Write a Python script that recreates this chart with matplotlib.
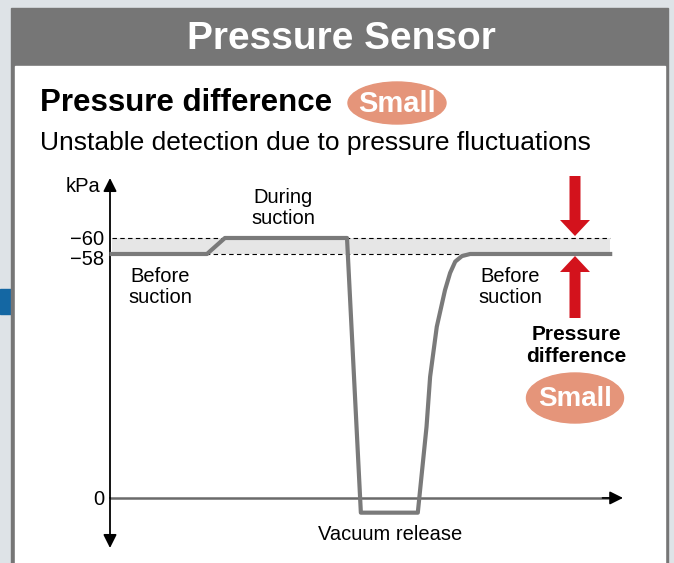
import matplotlib.pyplot as plt
import numpy as np
from matplotlib.patches import Rectangle, Ellipse, FancyArrow

plt.rcParams['font.family'] = ['Liberation Sans', 'DejaVu Sans']

# Pressure trace (time in arbitrary units, pressure in kPa)
time = [0.3, 18.9, 22.4, 46.2, 48.9, 60.0, 61.7, 62.4, 63.7, 65.3,
        66.3, 67.3, 68.6, 70.2, 97.5]
pressure = [-58, -58, -60, -60, 3.5, 3.5, -16.9, -28.8, -40.7, -49.4,
            -53.5, -56.2, -57.5, -58, -58]

band_low, band_high = -58, -60
tick_values = [-60, -58, 0]
tick_labels = ['\u221260', '\u221258', '0']

W, H = 674, 563


# schematic vertical scale: the -58..-60 band is stretched
def fwd(v):
    v = np.asarray(v, dtype=float)
    return np.where(v > -58, -v * 244.0 / 58.0, 244.0 + (-58.0 - v) * 8.0)


def inv(p):
    p = np.asarray(p, dtype=float)
    return np.where(p < 244, -p * 58.0 / 244.0, -58.0 - (p - 244.0) / 8.0)


fig = plt.figure(figsize=(W / 100, H / 100), dpi=100)
fig.patch.set_facecolor('#dee3e7')

# background / panel decoration in pixel coordinates
bg = fig.add_axes([0, 0, 1, 1])
bg.set_xlim(0, W)
bg.set_ylim(H, 0)
bg.axis('off')
bg.add_patch(Rectangle((0, 289), 12, 25, color='#1467a3'))
bg.add_patch(Rectangle((11, 8), 657, 560, color='#767676'))
bg.add_patch(Rectangle((15, 66), 650, 500, color='white'))
bg.text(341, 39, 'Pressure Sensor', color='white', fontsize=28,
        fontweight='bold', ha='center', va='center')
bg.text(40, 103, 'Pressure difference', fontsize=22.5, fontweight='bold',
        ha='left', va='center')
bg.add_patch(Ellipse((397, 103), 98, 42, color='#e5957a'))
bg.text(397, 104, 'Small', color='white', fontsize=21, fontweight='bold',
        ha='center', va='center')
bg.text(40, 143, 'Unstable detection due to pressure fluctuations',
        fontsize=19, ha='left', va='center')

# chart
ax = fig.add_axes([110 / W, (H - 548) / H, 513 / W, 370 / H])
ax.patch.set_alpha(0)
ax.set_yscale('function', functions=(fwd, inv))
ax.set_xlim(0, 100)
ax.set_ylim(-67.5, 11.9)
for s in ax.spines.values():
    s.set_visible(False)
ax.set_xticks([])
ax.set_yticks([])

ax.fill_between([time[0], time[-1]], band_low, band_high, color='#e6e6e6',
                lw=0, zorder=1)
for v in (band_low, band_high):
    ax.plot([time[0], time[-1]], [v, v], color='black', lw=0.8,
            ls=(0, (4, 3)), zorder=2)

# axes with arrows
ax.plot([0, 97], [0, 0], color='#6a6a6a', lw=1.8, zorder=3)
ax.annotate('', xy=(100, 0), xytext=(96, 0),
            arrowprops=dict(arrowstyle='-|>', color='black', lw=1.2,
                            mutation_scale=20, shrinkA=0, shrinkB=0),
            zorder=3)
ax.annotate('', xy=(0, -67.5), xytext=(0, 0),
            arrowprops=dict(arrowstyle='-|>', color='black', lw=1.3,
                            mutation_scale=20, shrinkA=0, shrinkB=0))
ax.annotate('', xy=(0, 11.9), xytext=(0, 0),
            arrowprops=dict(arrowstyle='-|>', color='black', lw=1.3,
                            mutation_scale=20, shrinkA=0, shrinkB=0))

ax.plot(time, pressure, color='#7a7a7a', lw=3, zorder=4, clip_on=False)

# tick labels
offsets = {-60: -2, -58: -6, 0: -2}
for v, lab in zip(tick_values, tick_labels):
    ax.annotate(lab, xy=(0, v), xytext=(-6, offsets[v]),
                textcoords='offset pixels', ha='right', va='center',
                fontsize=14.5)
bg.text(100, 187, 'kPa', fontsize=14.5, ha='right', va='center')

bg.text(283, 208, 'During\nsuction', fontsize=14.5, ha='center', va='center',
        linespacing=1.15)
bg.text(160, 287, 'Before\nsuction', fontsize=14.5, ha='center', va='center',
        linespacing=1.15)
bg.text(510, 287, 'Before\nsuction', fontsize=14.5, ha='center', va='center',
        linespacing=1.15)
bg.text(390, 535, 'Vacuum release', fontsize=14.5, ha='center', va='center')

# pressure difference marker
ov = fig.add_axes([0, 0, 1, 1])
ov.set_xlim(0, W)
ov.set_ylim(H, 0)
ov.axis('off')
red = '#d3121c'
ov.add_patch(FancyArrow(575, 176, 0, 60, width=11, head_width=30,
                        head_length=16, length_includes_head=True,
                        color=red, lw=0))
ov.add_patch(FancyArrow(575, 318, 0, -62, width=11, head_width=30,
                        head_length=16, length_includes_head=True,
                        color=red, lw=0))
ov.text(576, 346, 'Pressure\ndifference', fontsize=15, fontweight='bold',
        ha='center', va='center', linespacing=1.2)
ov.add_patch(Ellipse((575, 398), 97, 50, color='#e5957a'))
ov.text(575, 399, 'Small', color='white', fontsize=20, fontweight='bold',
        ha='center', va='center')

fig.savefig('out.png', dpi=100)
